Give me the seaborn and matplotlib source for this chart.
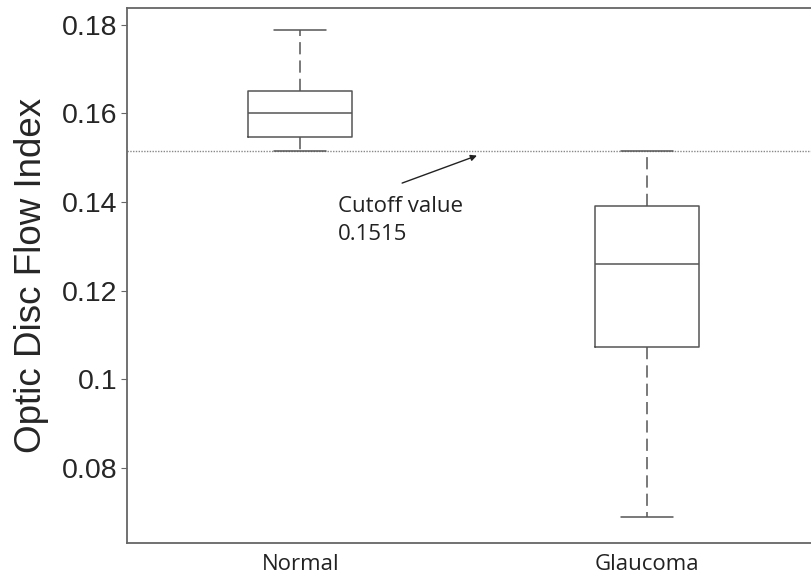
import numpy as np
import pandas as pd
import seaborn as sns
import matplotlib
matplotlib.use("Agg")
from matplotlib import pyplot as plt

# five-number summaries: min, q1, median, q3, max
groups = ["Normal", "Glaucoma"]
normal_vals = [0.1515, 0.1548, 0.1601, 0.1650, 0.1788]
glaucoma_vals = [0.0690, 0.1073, 0.1260, 0.1392, 0.1515]
cutoff = 0.1515
yticks = [0.08, 0.1, 0.12, 0.14, 0.16, 0.18]
ytick_labels = ["0.08", "0.1", "0.12", "0.14", "0.16", "0.18"]

data = pd.DataFrame({
    "group": [groups[0]] * len(normal_vals) + [groups[1]] * len(glaucoma_vals),
    "value": normal_vals + glaucoma_vals,
})

sns.set_style("ticks")
plt.rcParams['font.family'] = ['Liberation Sans', 'DejaVu Sans']

fig = plt.figure(figsize=(8.11, 5.77), dpi=100)
ax = fig.add_axes([127 / 811, 1 - 543 / 577, (820 - 127) / 811, (543 - 8) / 577])

line_col = "#555555"
sns.boxplot(data=data, x="group", y="value", order=groups, ax=ax,
            whis=(0, 100), width=0.3, fill=False, color=line_col,
            linewidth=1.1, showfliers=False,
            whiskerprops=dict(linestyle=(0, (8, 4)), color=line_col),
            capprops=dict(color=line_col),
            medianprops=dict(color=line_col),
            boxprops=dict(color=line_col))

ax.axhline(cutoff, color="#888888", linestyle=(0, (1, 1)), linewidth=1.0, zorder=0)

ax.set_xlim(-0.5, 1.5)
ax.set_ylim(0.0631, 0.1838)
ax.set_yticks(yticks)
ax.set_yticklabels(ytick_labels, fontsize=20.5)
ax.set_xlabel("")
ax.set_ylabel("Optic Disc Flow Index", fontsize=26.5, labelpad=9)
ax.tick_params(axis="y", direction="out", length=4, width=0.8, color="#666666", pad=3)
ax.tick_params(axis="x", length=0, pad=8)
for lab in ax.get_xticklabels():
    lab.set_fontfamily(["Open Sans", "DejaVu Sans"])
    lab.set_fontsize(16)
    lab.set_color("#222222")

for side in ["left", "top", "bottom", "right"]:
    ax.spines[side].set_visible(True)
    ax.spines[side].set_color("#666666")
    ax.spines[side].set_linewidth(1.3)

ax.annotate("", xy=(0.51, 0.1505), xytext=(0.294, 0.1443),
            arrowprops=dict(arrowstyle="-|>", color="#222222", lw=1.0,
                            mutation_scale=9, shrinkA=0, shrinkB=0))
txt_font = ["Open Sans", "DejaVu Sans"]
ax.text(0.1095, 0.1378, "Cutoff value", fontsize=16, va="baseline", ha="left",
        family=txt_font, color="#222222")
ax.text(0.1095, 0.1315, "0.1515", fontsize=16, va="baseline", ha="left",
        family=txt_font, color="#222222")

fig.savefig("out.png", dpi=100, facecolor="white")
